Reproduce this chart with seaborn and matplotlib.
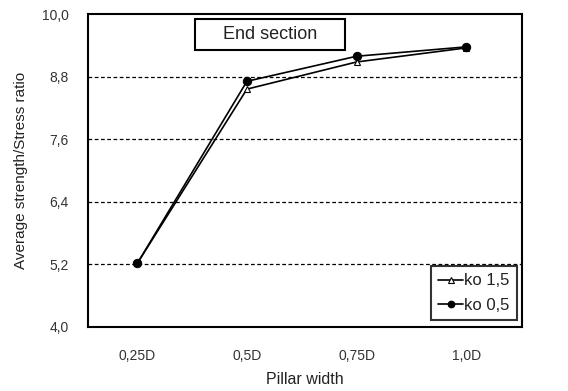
import matplotlib
matplotlib.use("Agg")
import matplotlib.pyplot as plt
from matplotlib.patches import Rectangle
import seaborn as sns
import pandas as pd

categories = ["0,25D", "0,5D", "0,75D", "1,0D"]
ko15 = [5.22, 8.56, 9.08, 9.35]
ko05 = [5.22, 8.71, 9.19, 9.37]
yticks = [4.0, 5.2, 6.4, 7.6, 8.8, 10.0]
ytick_labels = ["4,0", "5,2", "6,4", "7,6", "8,8", "10,0"]

sns.set_style("white")
plt.rcParams["font.family"] = ["Liberation Sans", "DejaVu Sans"]

df = pd.DataFrame({
    "pos": list(range(len(categories))) * 2,
    "value": ko15 + ko05,
    "series": ["ko 1,5"] * 4 + ["ko 0,5"] * 4,
})

fig = plt.figure(figsize=(5.68, 3.91), dpi=100)
ax = fig.add_axes([88/568, 1 - 327/391, (522-88)/568, (327-14)/391])

for y in yticks[1:-1]:
    ax.axhline(y, color="black", ls=(0, (3, 2)), lw=0.9, zorder=0)

sns.lineplot(data=df[df.series == "ko 1,5"], x="pos", y="value", ax=ax,
             color="black", lw=1.2, marker="^", markersize=5,
             markerfacecolor="white", markeredgecolor="black",
             markeredgewidth=0.8, label="ko 1,5")
sns.lineplot(data=df[df.series == "ko 0,5"], x="pos", y="value", ax=ax,
             color="black", lw=1.2, marker="o", markersize=6,
             markerfacecolor="black", markeredgecolor="black",
             label="ko 0,5")

ax.set_xlim(-0.45, 3.51)
ax.set_ylim(4.0, 10.0)
ax.set_xticks(range(len(categories)))
ax.set_xticklabels(categories, fontsize=10, color="#333333")
ax.set_yticks(yticks)
ax.set_yticklabels(ytick_labels, fontsize=10, color="#333333")
ax.tick_params(axis="y", direction="in", length=4, width=0.8, pad=14)
ax.tick_params(axis="x", length=0, pad=16)
for s in ax.spines.values():
    s.set_linewidth(1.5)
    s.set_color("black")
ax.set_xlabel("Pillar width", fontsize=11.5, color="#222222", labelpad=6)
ax.set_ylabel("Average strength/Stress ratio", fontsize=11, color="#222222", labelpad=10)

x0, x1 = (195 - 88) / 434, (345 - 88) / 434
y0, y1 = (327 - 50) / 313, (327 - 19) / 313
ax.add_patch(Rectangle((x0, y0), x1 - x0, y1 - y0, transform=ax.transAxes,
                       fc="white", ec="black", lw=1.5, zorder=5))
ax.text((x0 + x1) / 2, (y0 + y1) / 2, "End section", transform=ax.transAxes,
        ha="center", va="center", fontsize=13, color="#222222", zorder=6)

leg = ax.legend(loc="lower right", bbox_to_anchor=(0.988, 0.022), fontsize=12,
                frameon=True, fancybox=False, edgecolor="black",
                handlelength=1.5, handletextpad=0.05, borderpad=0.45,
                labelspacing=0.55, markerscale=0.8, borderaxespad=0)
leg.get_frame().set_linewidth(1.5)
for t in leg.get_texts():
    t.set_color("#222222")

fig.savefig("out.png", dpi=100)
